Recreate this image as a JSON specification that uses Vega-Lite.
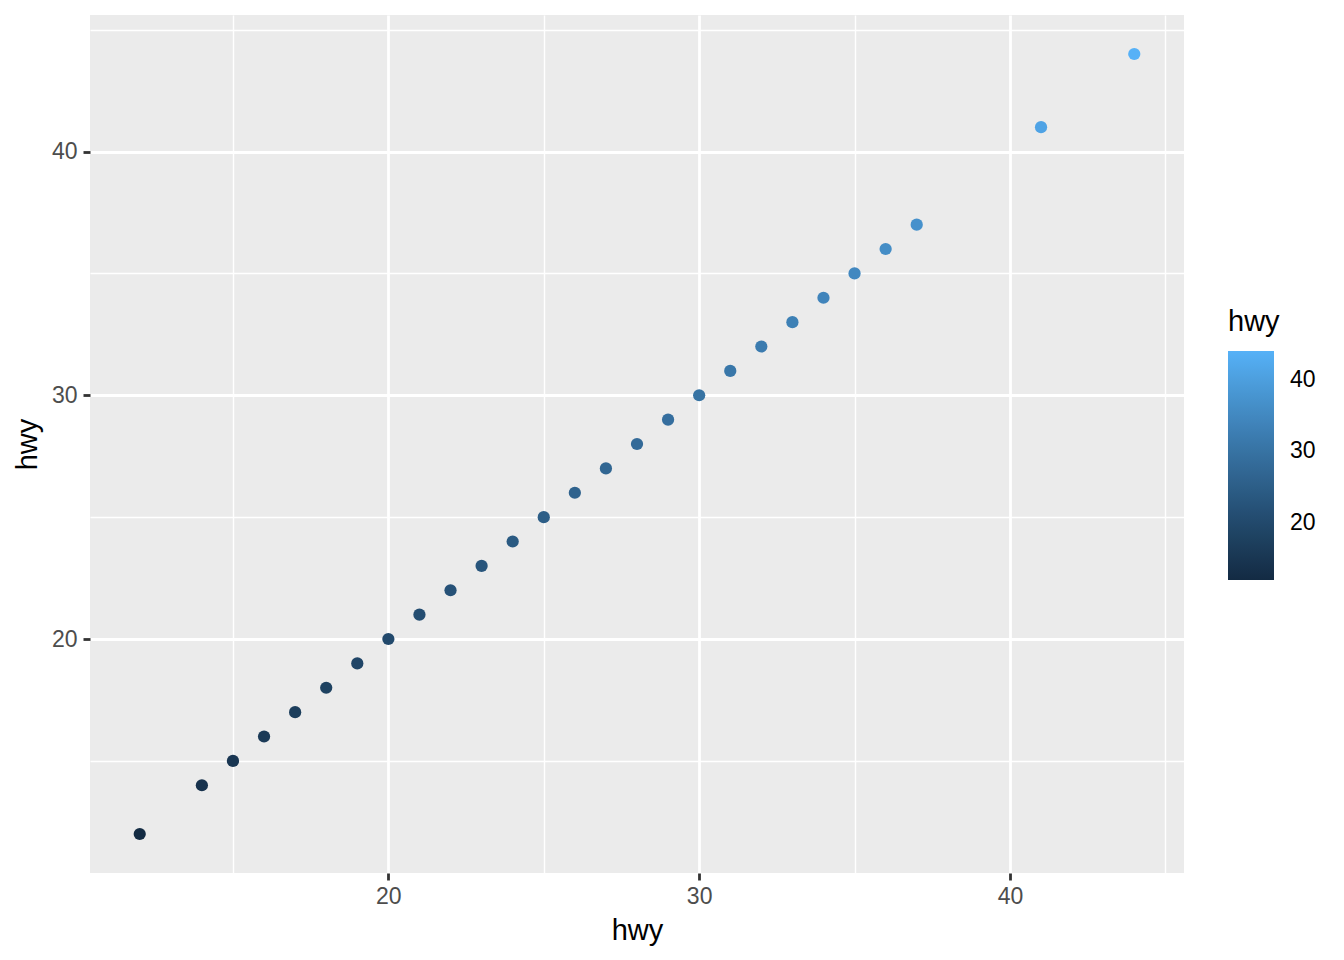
{
  "$schema": "https://vega.github.io/schema/vega-lite/v6.json",
  "width": 1094,
  "height": 858,
  "autosize": {"type": "none"},
  "padding": {"left": 90, "top": 15, "right": 160, "bottom": 87},
  "background": "white",
  "config": {
    "view": {"fill": "#EBEBEB", "stroke": null},
    "font": "Liberation Sans",
    "axis": {
      "labelFont": "Liberation Sans",
      "titleFont": "Liberation Sans",
      "labelFontSize": 23,
      "labelColor": "#4D4D4D",
      "titleFontSize": 29,
      "titleFontWeight": "normal",
      "titleColor": "black",
      "tickColor": "#333333",
      "tickSize": 7,
      "tickWidth": 2.8,
      "domain": false,
      "gridColor": "white"
    },
    "legend": {
      "labelFont": "Liberation Sans",
      "titleFont": "Liberation Sans"
    }
  },
  "data": {
    "values": [
      {"hwy": 12}, {"hwy": 14}, {"hwy": 15}, {"hwy": 16}, {"hwy": 17}, {"hwy": 18},
      {"hwy": 19}, {"hwy": 20}, {"hwy": 21}, {"hwy": 22}, {"hwy": 23}, {"hwy": 24},
      {"hwy": 25}, {"hwy": 26}, {"hwy": 27}, {"hwy": 28}, {"hwy": 29}, {"hwy": 30},
      {"hwy": 31}, {"hwy": 32}, {"hwy": 33}, {"hwy": 34}, {"hwy": 35}, {"hwy": 36},
      {"hwy": 37}, {"hwy": 41}, {"hwy": 44}
    ]
  },
  "resolve": {"axis": {"x": "independent", "y": "independent"}},
  "layer": [
    {
      "mark": {"type": "point", "opacity": 0},
      "encoding": {
        "x": {
          "field": "hwy", "type": "quantitative",
          "scale": {"domain": [10.4, 45.6], "nice": false, "zero": false},
          "axis": {"orient": "bottom", "values": [15, 25, 35, 45], "labels": false, "ticks": false, "title": null, "grid": true, "gridWidth": 1.4}
        },
        "y": {
          "field": "hwy", "type": "quantitative",
          "scale": {"domain": [10.4, 45.6], "nice": false, "zero": false},
          "axis": {"orient": "left", "values": [15, 25, 35, 45], "labels": false, "ticks": false, "title": null, "grid": true, "gridWidth": 1.4}
        }
      }
    },
    {
      "mark": {"type": "circle", "size": 150, "opacity": 1},
      "encoding": {
        "x": {
          "field": "hwy", "type": "quantitative",
          "scale": {"domain": [10.4, 45.6], "nice": false, "zero": false},
          "axis": {"orient": "bottom", "values": [20, 30, 40], "title": "hwy", "grid": true, "gridWidth": 2.8, "labelFontSize": 23, "titleFontSize": 29, "labelPadding": 5, "titlePadding": 8}
        },
        "y": {
          "field": "hwy", "type": "quantitative",
          "scale": {"domain": [10.4, 45.6], "nice": false, "zero": false},
          "axis": {"orient": "left", "values": [20, 30, 40], "title": "hwy", "grid": true, "gridWidth": 2.8, "labelFontSize": 23, "titleFontSize": 29, "labelPadding": 6, "titlePadding": 9}
        },
        "color": {
          "field": "hwy", "type": "quantitative",
          "scale": {"range": ["#132B43", "#56B1F7"], "interpolate": "lab", "zero": false, "nice": false},
          "legend": {
            "orient": "none",
            "legendX": 1138,
            "legendY": 293,
            "title": "hwy",
            "titleFontSize": 29,
            "titleFontWeight": "normal",
            "titleColor": "black",
            "titlePadding": 14,
            "gradientLength": 229,
            "gradientThickness": 46,
            "gradientStrokeWidth": 0,
            "values": [20, 30, 40],
            "labelFontSize": 23,
            "labelColor": "black",
            "labelOffset": 16,
            "direction": "vertical"
          }
        }
      }
    }
  ]
}
